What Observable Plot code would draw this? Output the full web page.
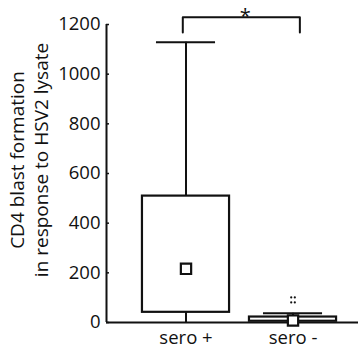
<!DOCTYPE html>
<html>
<head>
<meta charset="utf-8">
<script src="https://cdn.jsdelivr.net/npm/d3@7"></script>
<script src="https://cdn.jsdelivr.net/npm/@observablehq/plot@0.6"></script>
<style>
  html, body { margin: 0; padding: 0; background: #fff; }
  #chart svg { display: block; }
</style>
</head>
<body>
<div id="chart"></div>
<script>
// ---- data ----
const categories = ["sero +", "sero -"];
const whiskerLow = [0, 0];
const q1 = [41, 5];
const q3 = [509, 22];
const whiskerHigh = [1129, 37];
const means = [216, 8];
const outliers = [[], [101, 81]];
const yTicks = [0, 200, 400, 600, 800, 1000, 1200];
const sigLabel = "*";
const sigHeight = 1229;
const sigLeg = 1168;
const yLabel = "CD4 blast formation\nin response to HSV2 lysate";

// ---- derived tables ----
const boxes = categories.map((c, i) => ({
  cat: c, pos: i + 1,
  lo: whiskerLow[i], q1: q1[i], q3: q3[i], hi: whiskerHigh[i], mean: means[i]
}));
const outPts = categories.flatMap((c, i) => outliers[i].map(v => ({pos: i + 1, v})));
const boxHalf = 0.407, capHalf = 0.276;
const xMin = 0.257, xMax = 2.612;
const bracket = [
  {x: 1 - 0.03, y: sigLeg}, {x: 1 - 0.03, y: sigHeight},
  {x: 2 + 0.064, y: sigHeight}, {x: 2 + 0.064, y: sigLeg}
];

const font = "'Open Sans', sans-serif";
const ink = "#111";

const chart = Plot.plot({
  width: 358,
  height: 348,
  marginLeft: 106,
  marginRight: 0,
  marginTop: 24,
  marginBottom: 26,
  style: {fontFamily: font, background: "#fff", color: ink, overflow: "visible"},
  x: {domain: [xMin, xMax], axis: null},
  y: {domain: [0, 1200], axis: null},
  marks: [
    // axes lines
    Plot.ruleX([xMin], {y1: 0, y2: 1200, stroke: ink, strokeWidth: 2}),
    Plot.ruleY([0], {x1: xMin, x2: xMax, stroke: ink, strokeWidth: 2}),
    Plot.axisY({ticks: yTicks, tickFormat: d3.format("d"), tickSize: -3, tickPadding: 9, fontSize: 18.5, stroke: ink, strokeWidth: 1.5, fill: ink}),
    Plot.axisX({ticks: [1, 2], tickFormat: d => categories[d - 1], tickSize: 0, tickPadding: 8, fontSize: 18.5, fill: ink}),
    // y label
    Plot.text([yLabel], {frameAnchor: "left", textAnchor: "middle", rotate: -90, dx: -78, dy: -13.5, fontSize: 19, lineHeight: 1.22, lineAnchor: "middle", fill: ink}),
    // whiskers
    Plot.ruleX(boxes, {x: "pos", y1: "lo", y2: "hi", stroke: ink, strokeWidth: 2}),
    Plot.ruleY(boxes, {y: "hi", x1: d => d.pos - capHalf, x2: d => d.pos + capHalf, stroke: ink, strokeWidth: 2}),
    // boxes
    Plot.rect(boxes, {x1: d => d.pos - boxHalf, x2: d => d.pos + boxHalf, y1: "q1", y2: "q3", fill: "#fff", stroke: ink, strokeWidth: 2.2}),
    // means
    Plot.dot(boxes, {x: "pos", y: "mean", symbol: "square", r: 5.8, fill: "#fff", stroke: ink, strokeWidth: 2.2}),
    // outliers
    Plot.dot(outPts, {x: "pos", y: "v", r: 1.1, fill: ink, stroke: null, dx: -1.8}),
    Plot.dot(outPts, {x: "pos", y: "v", r: 1.1, fill: ink, stroke: null, dx: 1.8}),
    // significance bracket
    Plot.line(bracket, {x: "x", y: "y", stroke: ink, strokeWidth: 2, curve: "linear"}),
    Plot.text([sigLabel], {x: d => (bracket[0].x + bracket[3].x) / 2, y: sigHeight, lineAnchor: "middle", dx: 4, dy: -1, fontSize: 20, fill: ink})
  ]
});
document.getElementById("chart").append(chart);
</script>
</body>
</html>
